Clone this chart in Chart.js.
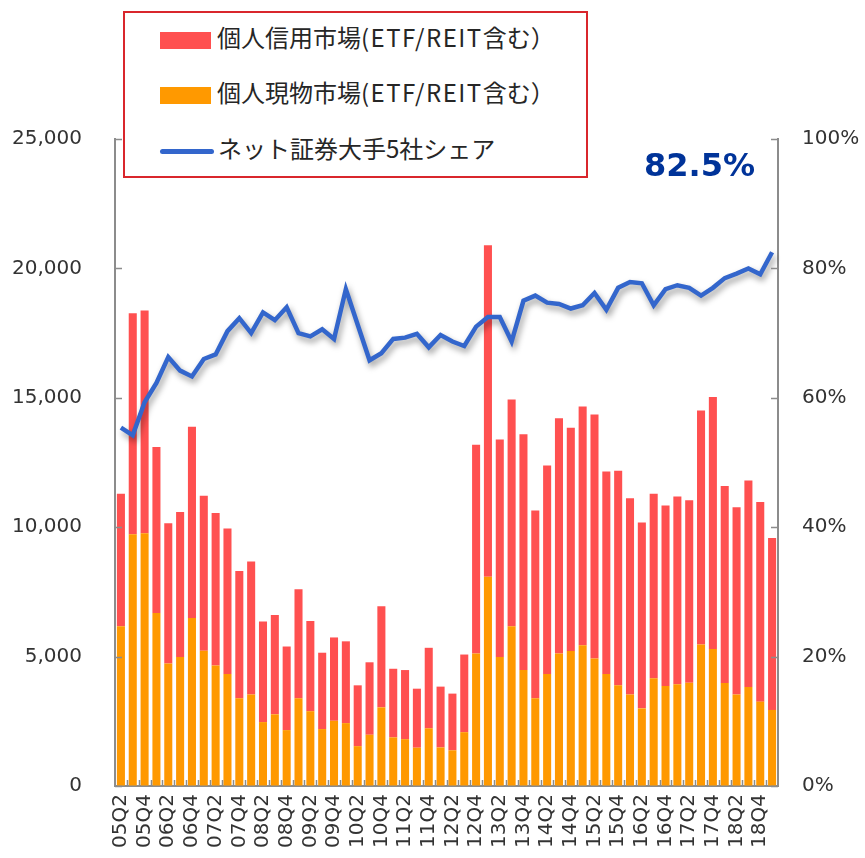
<!DOCTYPE html>
<html lang="ja">
<head>
<meta charset="utf-8">
<title>個人株式市場とネット証券大手5社シェア</title>
<script src="https://cdn.jsdelivr.net/npm/chart.js"></script>
<style>
  body { margin: 0; background: #fff; }
  #wrap { position: relative; width: 865px; height: 858px; }
  #legendBox {
    position: absolute; left: 123px; top: 11px; width: 461px; height: 163px;
    border: 2px solid #d9262c; background: #fff;
    font-family: 'Noto Sans CJK JP', sans-serif; font-size: 24px; color: #262626;
  }
  .item { position: absolute; left: 35px; height: 30px; line-height: 30px; white-space: nowrap; }
  .item span.sw { display: inline-block; width: 51px; height: 17px; vertical-align: middle; margin-right: 6px; }
  .item span.ln { display: inline-block; width: 54px; height: 5px; border-radius: 3px; background: #3366cc; vertical-align: middle; margin-right: 4px; }
  .item span.lat { letter-spacing: 1.5px; }
  #lastShare {
    position: absolute; left: 644px; top: 146px;
    font-family: 'DejaVu Sans', Verdana, sans-serif; font-weight: bold; font-size: 32px; color: #003399;
  }
</style>
</head>
<body>
<div id="wrap">
  <canvas id="myChart" width="865" height="858"></canvas>
  <div id="legendBox">
    <div class="item" style="top:9px"><span class="sw" style="background:#ff5050"></span>個人信用市場<span class="lat">(ETF/REIT</span>含む）</div>
    <div class="item" style="top:64px"><span class="sw" style="background:#ff9900"></span>個人現物市場<span class="lat">(ETF/REIT</span>含む）</div>
    <div class="item" style="top:120px"><span class="ln"></span>ネット証券大手5社シェア</div>
  </div>
  <div id="lastShare">82.5%</div>
</div>
<script>
  // 四半期ラベル
  const quarters = [
    '05Q2','05Q3','05Q4',
    '06Q1','06Q2','06Q3','06Q4',
    '07Q1','07Q2','07Q3','07Q4',
    '08Q1','08Q2','08Q3','08Q4',
    '09Q1','09Q2','09Q3','09Q4',
    '10Q1','10Q2','10Q3','10Q4',
    '11Q1','11Q2','11Q3','11Q4',
    '12Q1','12Q2','12Q3','12Q4',
    '13Q1','13Q2','13Q3','13Q4',
    '14Q1','14Q2','14Q3','14Q4',
    '15Q1','15Q2','15Q3','15Q4',
    '16Q1','16Q2','16Q3','16Q4',
    '17Q1','17Q2','17Q3','17Q4',
    '18Q1','18Q2','18Q3','18Q4',
    '19Q1'
  ];

  // 個人現物市場(ETF/REIT含む)
  const cashMarket = [
    6170, 9730, 9770,
    6680, 4730, 4980, 6490,
    5230, 4660, 4330, 3390,
    3540, 2470, 2770, 2160,
    3390, 2890, 2200, 2520,
    2430, 1540, 1980, 3040,
    1880, 1810, 1480, 2230,
    1490, 1380, 2080, 5120,
    8090, 4980, 6170, 4480,
    3390, 4330, 5120, 5220,
    5440, 4930, 4330, 3890,
    3540, 3000, 4160, 3860,
    3930, 3990, 5470, 5290,
    3980, 3540, 3830, 3260,
    2940
  ];

  // 個人信用市場(ETF/REIT含む)
  const marginMarket = [
    5120, 8540, 8600,
    6420, 5420, 5610, 7390,
    5990, 5890, 5620, 4920,
    5130, 3890, 3840, 3230,
    4210, 3490, 2950, 3220,
    3160, 2350, 2800, 3910,
    2650, 2670, 2280, 3110,
    2350, 2190, 3000, 8070,
    12800, 8410, 8760, 9110,
    7260, 8050, 9090, 8620,
    9220, 9420, 7820, 8290,
    7580, 7180, 7130, 6980,
    7260, 7050, 9040, 9740,
    7610, 7230, 7970, 7710,
    6640
  ];

  // ネット証券大手5社シェア (%)
  const netShare = [
    55.4, 54.2, 59.3,
    62.3, 66.3, 64.2, 63.3,
    66.0, 66.7, 70.3, 72.3,
    70.0, 73.2, 72.0, 74.0,
    70.0, 69.5, 70.6, 69.1,
    76.8, 71.3, 65.8, 66.9,
    69.1, 69.3, 69.9, 67.8,
    69.7, 68.7, 68.0, 71.0,
    72.5, 72.5, 68.7, 75.0,
    75.8, 74.7, 74.5, 73.8,
    74.3, 76.2, 73.6, 77.0,
    77.9, 77.7, 74.3, 76.8,
    77.4, 77.0, 75.8, 77.0,
    78.5, 79.2, 80.0, 79.1,
    82.5
  ];

  const axisGray = '#8c8c8c';
  const tickFont = { family: "'DejaVu Sans', Verdana, sans-serif", size: 20 };

  // 折れ線に影をつける
  const lineShadow = {
    id: 'lineShadow',
    beforeDatasetDraw(chart, args) {
      if (args.meta.type !== 'line') return;
      const ctx = chart.ctx;
      ctx.save();
      ctx.shadowColor = 'rgba(0,0,0,0.4)';
      ctx.shadowBlur = 6;
      ctx.shadowOffsetX = 2;
      ctx.shadowOffsetY = 4;
    },
    afterDatasetDraw(chart, args) {
      if (args.meta.type !== 'line') return;
      chart.ctx.restore();
    }
  };

  // 内向きの目盛り線
  const innerTicks = {
    id: 'innerTicks',
    afterDatasetsDraw(chart) {
      const { ctx, chartArea, scales } = chart;
      ctx.save();
      ctx.strokeStyle = axisGray;
      ctx.lineWidth = 1.5;
      ctx.beginPath();
      scales.y.ticks.forEach(t => {
        const py = Math.round(scales.y.getPixelForValue(t.value)) + 0.5;
        ctx.moveTo(chartArea.left, py);
        ctx.lineTo(chartArea.left + 7, py);
      });
      scales.y1.ticks.forEach(t => {
        const py = Math.round(scales.y1.getPixelForValue(t.value)) + 0.5;
        ctx.moveTo(chartArea.right, py);
        ctx.lineTo(chartArea.right - 7, py);
      });
      const step = (chartArea.right - chartArea.left) / quarters.length;
      for (let i = 1; i < quarters.length; i++) {
        const px = Math.round(chartArea.left + i * step) + 0.5;
        ctx.moveTo(px, chartArea.bottom);
        ctx.lineTo(px, chartArea.bottom - 6);
      }
      ctx.stroke();
      ctx.restore();
    }
  };

  const ctx = document.getElementById('myChart').getContext('2d');
  const myChart = new Chart(ctx, {
    type: 'bar',
    data: {
      labels: quarters,
      datasets: [
        {
          label: 'ネット証券大手5社シェア',
          type: 'line',
          data: netShare,
          borderColor: '#3366cc',
          borderWidth: 4.5,
          pointRadius: 0,
          tension: 0,
          fill: false,
          yAxisID: 'y1',
          order: 0
        },
        {
          label: '個人現物市場(ETF/REIT含む）',
          data: cashMarket,
          backgroundColor: '#ff9900',
          yAxisID: 'y',
          stack: 'market',
          order: 1
        },
        {
          label: '個人信用市場(ETF/REIT含む）',
          data: marginMarket,
          backgroundColor: '#ff5050',
          yAxisID: 'y',
          stack: 'market',
          order: 1
        }
      ]
    },
    options: {
      responsive: false,
      animation: false,
      layout: { padding: { top: 139, left: 0, right: 0, bottom: 0 } },
      datasets: { bar: { categoryPercentage: 1, barPercentage: 0.68 } },
      plugins: { legend: { display: false }, tooltip: { enabled: false } },
      scales: {
        x: {
          stacked: true,
          grid: { display: true, drawOnChartArea: false, drawTicks: false },
          border: { display: true, color: axisGray, width: 2 },
          ticks: {
            autoSkip: false,
            maxRotation: 90,
            minRotation: 90,
            padding: 8,
            color: '#333',
            font: tickFont,
            callback: (value, index) => index % 2 === 0 ? quarters[index] : ''
          },
          afterFit: scale => { scale.height = 72; }
        },
        y: {
          stacked: true,
          position: 'left',
          min: 0,
          max: 25000,
          grid: { display: true, drawOnChartArea: false, drawTicks: false },
          border: { display: true, color: axisGray, width: 2 },
          ticks: {
            stepSize: 5000,
            padding: 33,
            color: '#333',
            font: tickFont,
            callback: value => value.toLocaleString('en-US')
          },
          afterFit: scale => { scale.width = 115; }
        },
        y1: {
          position: 'right',
          min: 0,
          max: 100,
          grid: { display: true, drawOnChartArea: false, drawTicks: false },
          border: { display: true, color: axisGray, width: 2 },
          ticks: {
            stepSize: 20,
            padding: 24,
            color: '#333',
            font: tickFont,
            callback: value => `${value}%`
          },
          afterFit: scale => { scale.width = 87; }
        }
      }
    },
    plugins: [lineShadow, innerTicks]
  });
</script>
</body>
</html>
